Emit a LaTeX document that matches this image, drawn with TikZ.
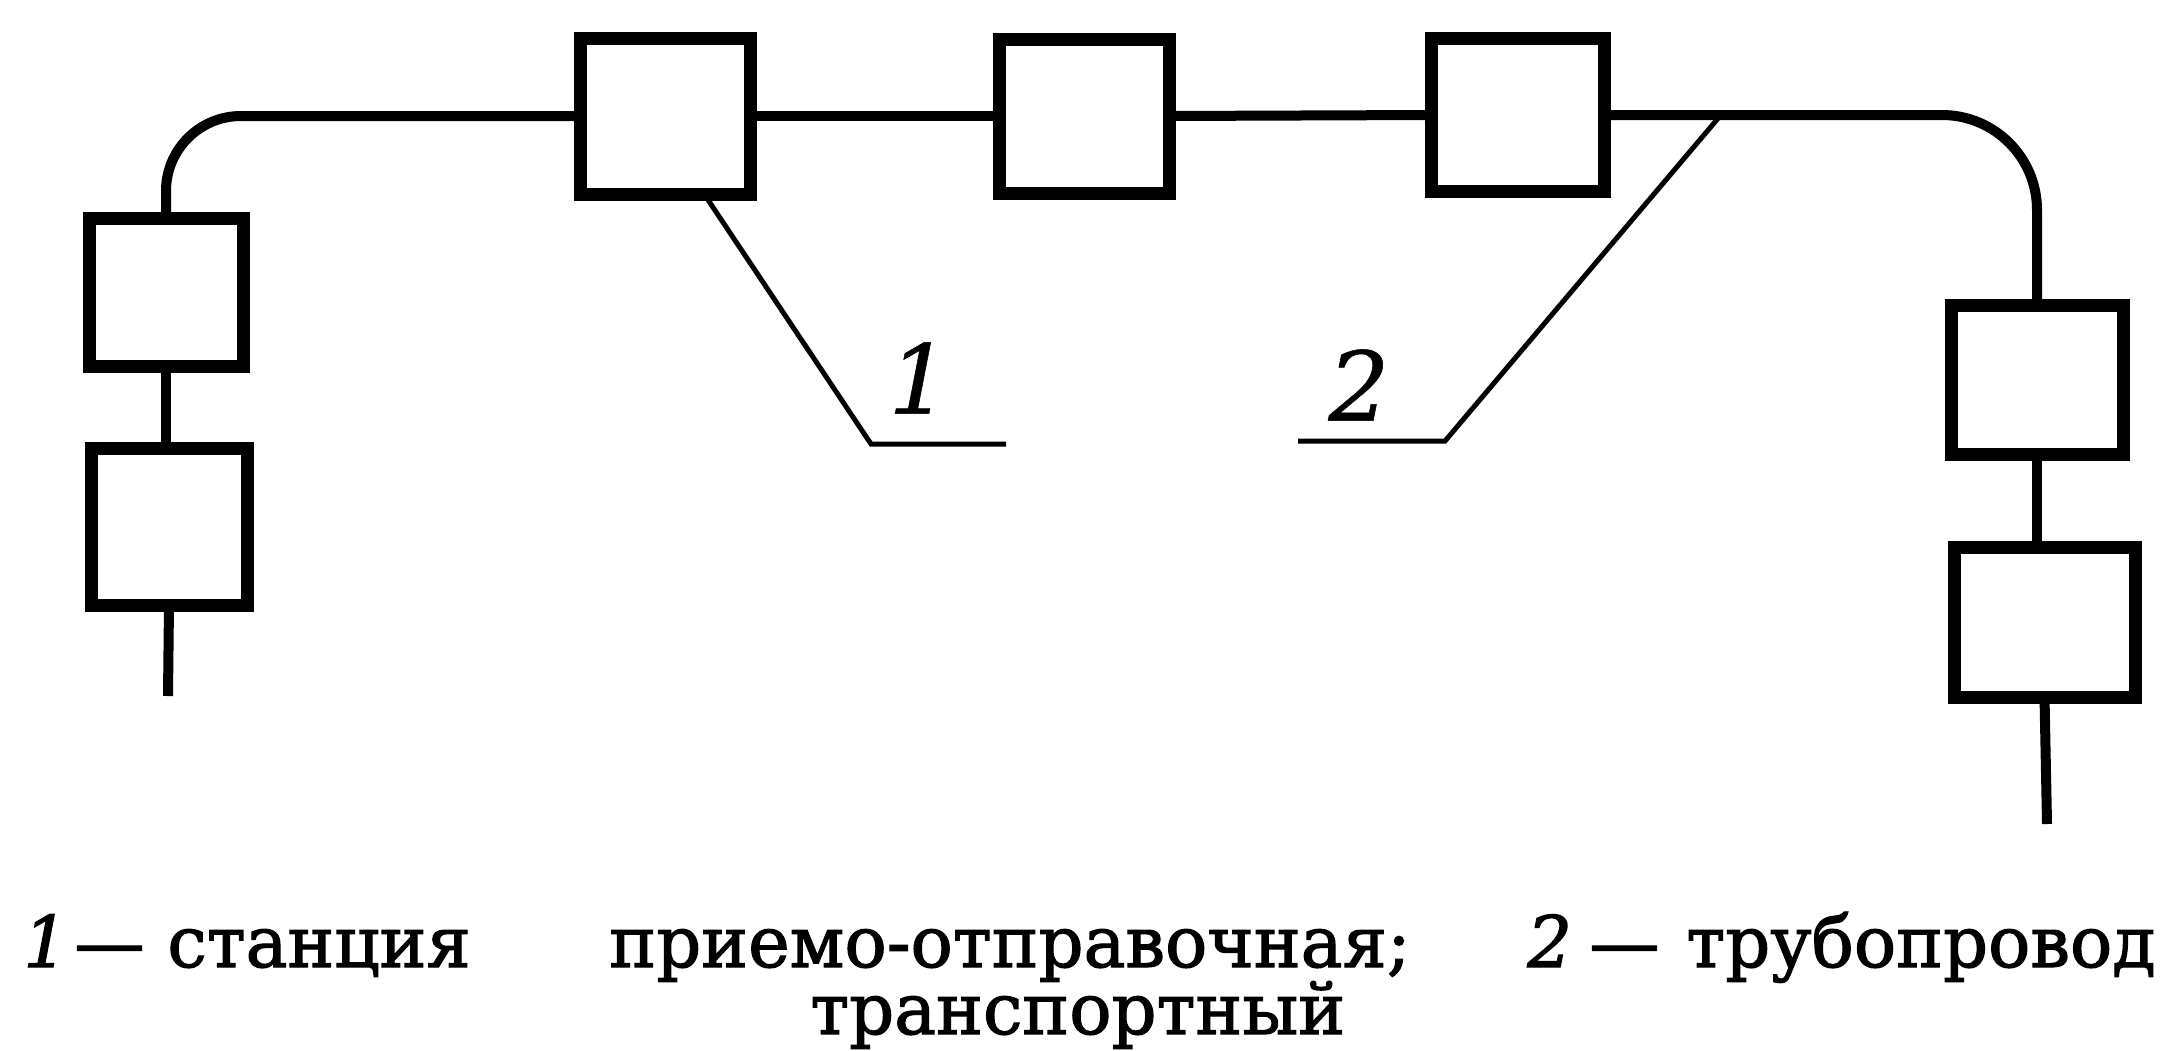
\documentclass[tikz,border=0pt]{standalone}
\usepackage{fontspec}
\setmainfont{DejaVu Serif}
\newfontfamily\capfont[FakeStretch=0.99,FakeBold=1.6]{DejaVu Serif}
\newfontfamily\labfont[FakeBold=0.6]{DejaVu Serif}
\usetikzlibrary{calc}
\begin{document}
\begin{tikzpicture}[x=0.5pt,y=-0.5pt,
  box/.style={draw,line width=6.5pt,rectangle,inner sep=0pt,outer sep=0pt},
  pipe/.style={line width=5pt},
  leader/.style={line width=2.5pt},
  lab/.style={font=\labfont\fontsize{48}{48}\selectfont\itshape,inner sep=0pt},
  captxt/.style={font=\capfont\fontsize{35.5}{40}\selectfont,inner sep=0pt,anchor=base west},
  capit/.style={font=\capfont\fontsize{35.5}{40}\selectfont\itshape,inner sep=0pt,anchor=base west}]
\useasboundingbox (0,0) rectangle (2167,1050);
% boxes
\node[box,minimum width=77pt,minimum height=74pt] (A) at (166,292) {};
\node[box,minimum width=78pt,minimum height=78.5pt] (B) at (169,526.5) {};
\node[box,minimum width=85pt,minimum height=78pt] (C) at (665,116) {};
\node[box,minimum width=85pt,minimum height=77pt] (D) at (1084,116) {};
\node[box,minimum width=86.5pt,minimum height=76.5pt] (E) at (1517.5,115) {};
\node[box,minimum width=86pt,minimum height=74.5pt] (F) at (2037,379.5) {};
\node[box,minimum width=90.5pt,minimum height=75pt] (G) at (2044.5,622) {};
\coordinate (Bend) at (168,696);
\coordinate (Gend) at (2047,824);
% pipes
\draw[pipe,rounded corners=37.5pt] (A.north) |- (C.west);
\draw[pipe] (C.east) -- (D.west);
\draw[pipe] (D.east) -- (E.west);
\draw[pipe,rounded corners=47.5pt] (E.east) -| (F.north);
\draw[pipe] (A.south) -- (A.south |- B.north);
\draw[pipe] (B.south) -- (Bend);
\draw[pipe] (F.south) -- (F.south |- G.north);
\draw[pipe] (G.south) -- (Gend);
% leaders
\coordinate (L1s) at ($(C.south west)!0.73!(C.south east)$);
\coordinate (L1b) at (871,444);
\coordinate (L1e) at (1006,444);
\coordinate (L2s) at (1720,116);
\coordinate (L2b) at (1445,441);
\coordinate (L2e) at (1298,441);
\draw[leader] (L1s) -- (L1b) -- (L1e);
\draw[leader] (L2s) -- (L2b) -- (L2e);
\node[lab] (n1) at (919,378) {1};
\node[lab] (n2) at (1359,385) {2};
% caption
\node[capit] (c1) at (23,967) {1};
\node[captxt] (d1) at (74,967) {—};
\node[captxt] (t1) at (167,967) {станция};
\node[captxt] (t2) at (609,967) {приемо-отправочная;};
\node[capit] (c2) at (1527,967) {2};
\node[captxt] (d2) at (1589,967) {—};
\node[captxt] (t3) at (1686,967) {трубопровод};
\node[captxt] (t4) at (810,1034) {транспортный};
\end{tikzpicture}
\end{document}
